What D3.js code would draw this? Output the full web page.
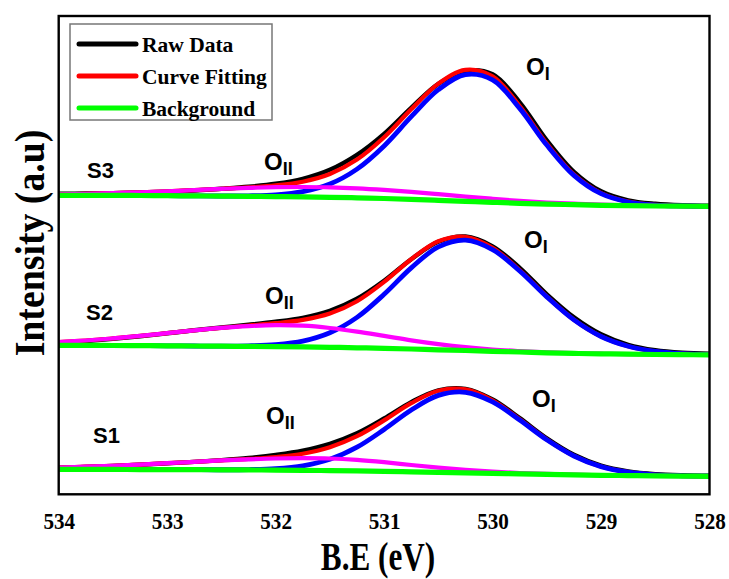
<!DOCTYPE html>
<html>
<head>
<meta charset="utf-8">
<script src="https://cdn.jsdelivr.net/npm/d3@7"></script>
<style>
  html, body { margin: 0; padding: 0; background: #fff; }
  svg { display: block; }
</style>
</head>
<body>
<svg id="chart" width="729" height="579"></svg>
<script>
// ---------- DATA (binding energy in eV, intensity in arbitrary units) ----------
const bindingEnergy = [534, 533.75, 533.5, 533.25, 533, 532.75, 532.5, 532.25, 532, 531.75, 531.5, 531.25, 531,
  530.75, 530.5, 530.25, 530, 529.75, 529.5, 529.25, 529, 528.75, 528.5, 528.25, 528];
const xTicks = [534, 533, 532, 531, 530, 529, 528];
const samples = ["S3", "S2", "S1"];
const legendLabels = ["Raw Data", "Curve Fitting", "Background"];

// S3
const s3Raw = [300.5, 300.8, 301.2, 301.8, 302.6, 303.8, 305.5, 307.5, 310.5, 315.5, 324.5, 339.5, 360.5,
  386.5, 410.5, 423.5, 420, 392, 354, 322.5, 303, 294, 290.5, 289, 288.5];
const s3Fit = [299.9, 300.5, 301.3, 302.0, 303.0, 304.2, 305.5, 306.9, 308.9, 312.6, 320.3, 334.7, 357.0,
  385.0, 410.7, 424.4, 417.9, 388.3, 350.8, 319.9, 301.2, 292.65, 289.4, 288.4, 288.05];
const s3OI = [299, 299, 299, 298.8, 298.6, 298.4, 298.3, 298.5, 299.5, 302.7, 310.3, 325.2, 348.4,
  377.6, 404.6, 419.7, 414.4, 385.9, 349.2, 318.9, 300.6, 292.3, 289.2, 288.3, 288];
const s3OII = [299.9, 300.5, 301.3, 302.0, 303.0, 304.2, 305.4, 306.4, 307.1, 307.3, 307.0, 306.0, 304.4,
  302.4, 300.1, 297.7, 295.5, 293.4, 291.8, 290.6, 289.6, 288.95, 288.5, 288.2, 288.05];
const s3Bg = [299, 299, 299, 298.8, 298.6, 298.4, 298.2, 298, 297.7, 297.4, 297, 296.5, 295.8,
  295, 294, 293, 292, 291, 290.2, 289.6, 289, 288.6, 288.3, 288.1, 288];

// S2
const s2Raw = [151.5, 153.2, 155.4, 158.0, 161.0, 164.0, 166.8, 169.5, 172.5, 176.5, 183.5, 195.5, 213.5,
  235.0, 252.5, 257.8, 248.0, 226.5, 200.0, 177.0, 160.0, 149.5, 144.0, 141.5, 140.5];
const s2Fit = [152.2, 153.8, 155.9, 158.35, 161.2, 163.9, 166.5, 168.8, 171.1, 174.4, 180.8, 193.1, 212.4,
  235.1, 253.1, 257.5, 246.5, 224.2, 197.8, 174.6, 157.9, 148.0, 142.8, 140.6, 139.8];
const s2OI = [149, 148.9, 148.8, 148.65, 148.5, 148.3, 148.2, 148.5, 149.7, 153.2, 161.5, 176.9, 200.0,
  226.4, 247.4, 254.2, 244.7, 223.3, 197.4, 174.4, 157.8, 148.0, 142.8, 140.6, 139.8];
const s2OII = [152.2, 153.8, 155.9, 158.35, 161.2, 163.9, 166.4, 168.2, 169.1, 168.6, 166.3, 162.7, 158.4,
  154.0, 150.2, 147.1, 144.8, 143.2, 141.9, 141.1, 140.6, 140.15, 139.82, 139.6, 139.5];
const s2Bg = [149, 148.9, 148.8, 148.65, 148.5, 148.3, 148.1, 147.9, 147.7, 147.4, 147, 146.5, 146,
  145.3, 144.5, 143.8, 143, 142.3, 141.5, 140.9, 140.5, 140.1, 139.8, 139.6, 139.5];

// S1
const s1Raw = [26.5, 27.3, 28.3, 29.5, 30.9, 32.4, 34.2, 36.4, 39.4, 43.6, 50.5, 61.0, 75.8,
  92.2, 104.0, 105.4, 94.8, 76.2, 56.0, 39.5, 28.7, 23.0, 20.2, 19.0, 18.5];
const s1Fit = [26.8, 27.6, 28.55, 29.75, 31.1, 32.5, 33.95, 35.35, 37.3, 40.6, 47.1, 58.1, 73.9,
  91.1, 103.6, 104.9, 94.0, 75.1, 54.9, 38.45, 27.75, 22.1, 19.5, 18.5, 18.1];
const s1OI = [25, 24.9, 24.85, 24.75, 24.7, 24.6, 24.55, 24.75, 25.7, 28.5, 35.0, 47.1, 64.8,
  84.3, 98.9, 102.0, 92.4, 74.3, 54.5, 38.3, 27.7, 22.1, 19.5, 18.5, 18.1];
const s1OII = [26.8, 27.6, 28.55, 29.75, 31.1, 32.5, 33.85, 34.95, 35.8, 36.1, 35.8, 34.4, 32.1,
  29.3, 26.7, 24.4, 22.6, 21.3, 20.4, 19.65, 19.05, 18.7, 18.4, 18.2, 18];
const s1Bg = [25, 24.9, 24.85, 24.75, 24.7, 24.6, 24.45, 24.35, 24.2, 24, 23.7, 23.4, 23,
  22.5, 22, 21.5, 21, 20.5, 20, 19.5, 19, 18.7, 18.4, 18.2, 18];

// ---------- CHART ----------
const svg = d3.select("#chart");
const plot = { left: 58.7, right: 709.5, top: 16, bottom: 494.3 };

const x = d3.scaleLinear().domain([534, 528]).range([plot.left, plot.right]);
const y = d3.scaleLinear().domain([0, 478.3]).range([plot.bottom, plot.top]);

const colors = { raw: "#000000", fit: "#ff0000", oi: "#0000ff", oii: "#ff00ff", bg: "#00ff00" };
const widths = { raw: 4.4, fit: 4.2, oi: 4.8, oii: 4.2, bg: 5.2 };

const line = d3.line()
  .x((d, i) => x(bindingEnergy[i]))
  .y(d => y(d))
  .curve(d3.curveCatmullRom.alpha(0.5));

const panels = [
  { raw: s3Raw, fit: s3Fit, oi: s3OI, oii: s3OII, bg: s3Bg },
  { raw: s2Raw, fit: s2Fit, oi: s2OI, oii: s2OII, bg: s2Bg },
  { raw: s1Raw, fit: s1Fit, oi: s1OI, oii: s1OII, bg: s1Bg }
];

const curvesG = svg.append("g");
const order = ["raw", "fit", "oi", "oii", "bg"];
panels.forEach(p => {
  order.forEach(k => {
    curvesG.append("path")
      .attr("d", line(p[k]))
      .attr("fill", "none")
      .attr("stroke", colors[k])
      .attr("stroke-width", widths[k])
      .attr("stroke-linejoin", "round")
      .attr("stroke-linecap", "butt");
  });
});

// frame
svg.append("rect")
  .attr("x", plot.left).attr("y", plot.top)
  .attr("width", plot.right - plot.left).attr("height", plot.bottom - plot.top)
  .attr("fill", "none").attr("stroke", "#000").attr("stroke-width", 2.4);

// x axis
const xAxis = svg.append("g")
  .attr("transform", `translate(0,${plot.bottom})`)
  .call(d3.axisBottom(x).tickValues(xTicks).tickSize(0).tickPadding(18).tickFormat(d3.format("d")));
xAxis.select(".domain").remove();
xAxis.selectAll("text")
  .attr("font-family", "'Liberation Serif', 'Times New Roman', serif")
  .attr("font-weight", "bold")
  .attr("font-size", 24)
  .attr("fill", "#000")
  .attr("transform", "scale(0.88,1)");

// axis titles
svg.append("text")
  .attr("transform", `translate(378,570) scale(0.78,1)`)
  .attr("text-anchor", "middle")
  .attr("font-family", "'Liberation Serif', 'Times New Roman', serif")
  .attr("font-weight", "bold")
  .attr("font-size", 40)
  .text("B.E (eV)");

svg.append("text")
  .attr("transform", `translate(44,243) rotate(-90) scale(0.9,1)`)
  .attr("text-anchor", "middle")
  .attr("font-family", "'Liberation Serif', 'Times New Roman', serif")
  .attr("font-weight", "bold")
  .attr("font-size", 42)
  .text("Intensity (a.u)");

// legend
const legend = svg.append("g");
legend.append("rect")
  .attr("x", 70).attr("y", 24).attr("width", 202).attr("height", 96)
  .attr("fill", "#fff").attr("stroke", "#777").attr("stroke-width", 1.5);
const legendColors = [colors.raw, colors.fit, colors.bg];
legendLabels.forEach((lab, i) => {
  const ly = 44 + i * 32;
  legend.append("line")
    .attr("x1", 79).attr("x2", 136).attr("y1", ly).attr("y2", ly)
    .attr("stroke", legendColors[i]).attr("stroke-width", 5).attr("stroke-linecap", "round");
  legend.append("text")
    .attr("x", 142).attr("y", ly + 8)
    .attr("font-family", "'Liberation Serif', 'Times New Roman', serif")
    .attr("font-weight", "bold")
    .attr("font-size", 21.5)
    .text(lab);
});

// sample labels
const sampleLabelPos = [[87, 178], [86, 320], [93, 443]];
samples.forEach((s, i) => {
  svg.append("text")
    .attr("x", sampleLabelPos[i][0]).attr("y", sampleLabelPos[i][1])
    .attr("font-family", "'Liberation Sans', Arial, sans-serif")
    .attr("font-weight", "bold")
    .attr("font-size", 22)
    .text(s);
});

// peak labels
function peakLabel(px, py, sub) {
  const t = svg.append("text")
    .attr("x", px).attr("y", py)
    .attr("font-family", "'Liberation Sans', Arial, sans-serif")
    .attr("font-weight", "bold")
    .attr("font-size", 24);
  t.append("tspan").text("O");
  t.append("tspan").attr("font-size", 18).attr("dy", 5).text(sub);
}
const oiiPos = [[264, 170], [265, 304], [266, 424]];
const oiPos = [[526, 75], [524, 248], [532, 407]];
oiiPos.forEach(p => peakLabel(p[0], p[1], "II"));
oiPos.forEach(p => peakLabel(p[0], p[1], "I"));
</script>
</body>
</html>
